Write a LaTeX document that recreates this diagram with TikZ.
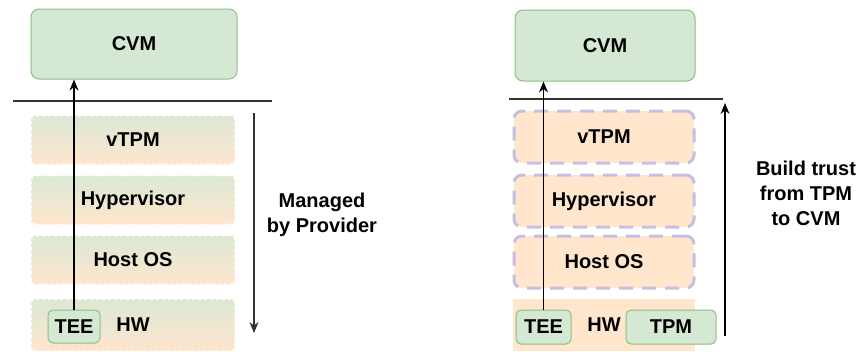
\documentclass[tikz,border=0pt]{standalone}
\usepackage{fontspec}
\setmainfont{Liberation Sans}
\usetikzlibrary{arrows.meta}
\definecolor{cvmfill}{RGB}{213,232,212}
\definecolor{cvmedge}{RGB}{140,190,130}
\definecolor{peach}{RGB}{255,230,204}
\definecolor{greyish}{RGB}{220,232,214}
\definecolor{lavender}{RGB}{200,190,225}
\definecolor{linegrey}{RGB}{50,50,50}
\begin{document}
\begin{tikzpicture}[x=1pt,y=-1pt,
    every node/.style={font=\bfseries\fontsize{20}{25}\selectfont},
    vmbox/.style={rounded corners=8pt, fill=cvmfill, draw=cvmedge, line width=1pt, inner sep=0pt},
    glayer/.style={rounded corners=4pt, top color=greyish, bottom color=peach, draw=white, dashed, line width=1.5pt,
      minimum width=204pt, minimum height=49pt, inner sep=0pt},
    player/.style={rounded corners=8pt, fill=peach, draw=lavender, line width=3pt, dash pattern=on 14pt off 9pt,
      minimum width=180pt, minimum height=52pt, inner sep=0pt},
    flow/.style={-{Stealth[length=11pt,width=9pt]}, line width=1.2pt}]
  \useasboundingbox (0,0) rectangle (866,351);
  \node [vmbox, minimum width=206pt, minimum height=70pt] (cvmL) at (134,44) {CVM};
  \node [glayer] (vtpmL) at (133,140) {vTPM};
  \node [glayer] (hypL) at (133,200) {Hypervisor};
  \node [glayer] (hostL) at (133,260) {Host OS};
  \node [glayer, minimum height=52pt] (hwL) at (133,325) {HW};
  \node [vmbox, rounded corners=5pt, minimum width=52pt, minimum height=33pt] (teeL) at (74,326.5) {TEE};
  \coordinate (lineLa) at (13,101);
  \coordinate (lineLb) at (272,101);
  \draw [line width=1.3pt, linegrey] (lineLa) -- (lineLb);
  \draw [flow] (teeL.north) -- (teeL.north |- cvmL.south);
  \coordinate (provTop) at (254,113);
  \coordinate (provBot) at (254,333);
  \draw [flow, linegrey] (provTop) -- (provBot);
  \node [align=center] (managed) at (322,215) {Managed\\by Provider};
  \node [vmbox, minimum width=180pt, minimum height=71pt] (cvmR) at (605,45.5) {CVM};
  \node [player] (vtpmR) at (604,137) {vTPM};
  \node [player] (hypR) at (604,201) {Hypervisor};
  \node [player] (hostR) at (604,262) {Host OS};
  \node [fill=peach, minimum width=182pt, minimum height=52pt, inner sep=0pt] (hwR) at (604,325) {HW};
  \node [vmbox, rounded corners=5pt, minimum width=55pt, minimum height=34pt] (teeR) at (543.5,327) {TEE};
  \node [vmbox, rounded corners=5pt, minimum width=90pt, minimum height=34pt] (tpmR) at (671,327) {TPM};
  \coordinate (lineRa) at (509,99);
  \coordinate (lineRb) at (723,99);
  \draw [line width=1.3pt, linegrey] (lineRa) -- (lineRb);
  \draw [flow] (teeR.north) -- (teeR.north |- cvmR.south);
  \coordinate (trustBot) at (725,336);
  \coordinate (trustTop) at (725,103);
  \draw [flow] (trustBot) -- (trustTop);
  \node [align=center] (trust) at (806,193) {Build trust\\from TPM\\to CVM};
\end{tikzpicture}
\end{document}
